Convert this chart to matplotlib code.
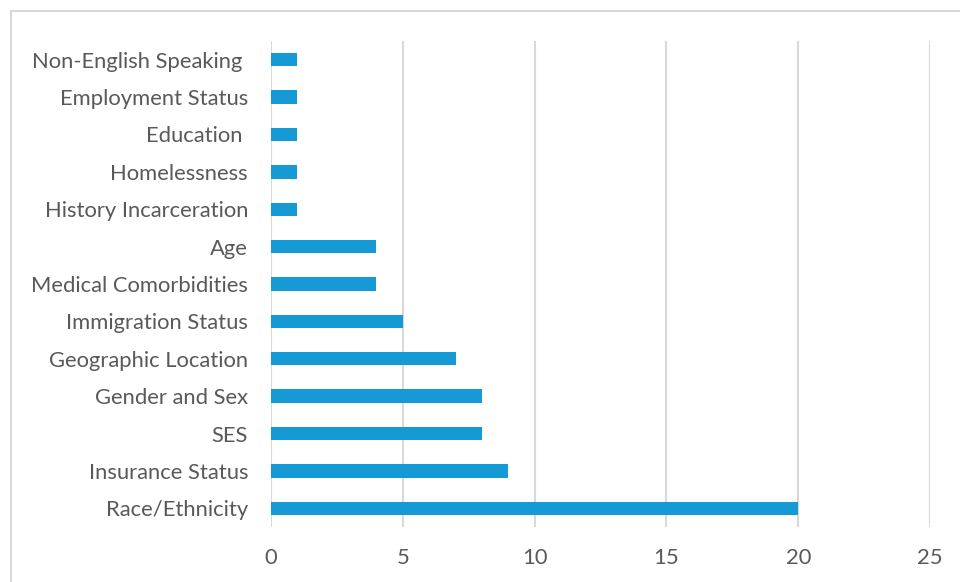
import matplotlib
matplotlib.use("Agg")
import matplotlib.pyplot as plt
from matplotlib.patches import Rectangle

categories = [
    "Race/Ethnicity",
    "Insurance Status",
    "SES",
    "Gender and Sex",
    "Geographic Location",
    "Immigration Status",
    "Medical Comorbidities",
    "Age",
    "History Incarceration",
    "Homelessness",
    "Education ",
    "Employment Status",
    "Non-English Speaking ",
]
counts = [20, 9, 8, 8, 7, 5, 4, 4, 1, 1, 1, 1, 1]
x_ticks = [0, 5, 10, 15, 20, 25]

BAR_COLOR = "#169AD6"
GRID_COLOR = "#D9D9D9"
TEXT_COLOR = "#595959"

plt.rcParams["font.family"] = ["Lato", "DejaVu Sans"]

fig = plt.figure(figsize=(9.6, 5.82), dpi=100)
ax = fig.add_axes([271 / 960, 1 - 527 / 582, 659 / 960, 486 / 582])

ax.barh(range(len(categories)), counts, height=0.36, color=BAR_COLOR, zorder=3)

ax.set_xlim(0, 25)
ax.set_ylim(-0.5, len(categories) - 0.5)
ax.set_xticks(x_ticks)
ax.set_yticks(range(len(categories)))
ax.set_yticklabels(categories)
ax.tick_params(axis="both", length=0, labelsize=15.8, labelcolor=TEXT_COLOR)
ax.tick_params(axis="y", pad=16.5)
ax.tick_params(axis="x", pad=15)

for spine in ax.spines.values():
    spine.set_visible(False)
ax.grid(axis="x", color=GRID_COLOR, linewidth=1.5, zorder=0)
ax.set_axisbelow(True)

# outer chart frame (cropped on the right and bottom)
fig.patches.append(
    Rectangle((11 / 960, -0.05), 1.2, 1 - 11 / 582 + 0.05,
              transform=fig.transFigure, fill=False,
              edgecolor=GRID_COLOR, linewidth=1.5)
)

fig.savefig("out.png", dpi=100)
